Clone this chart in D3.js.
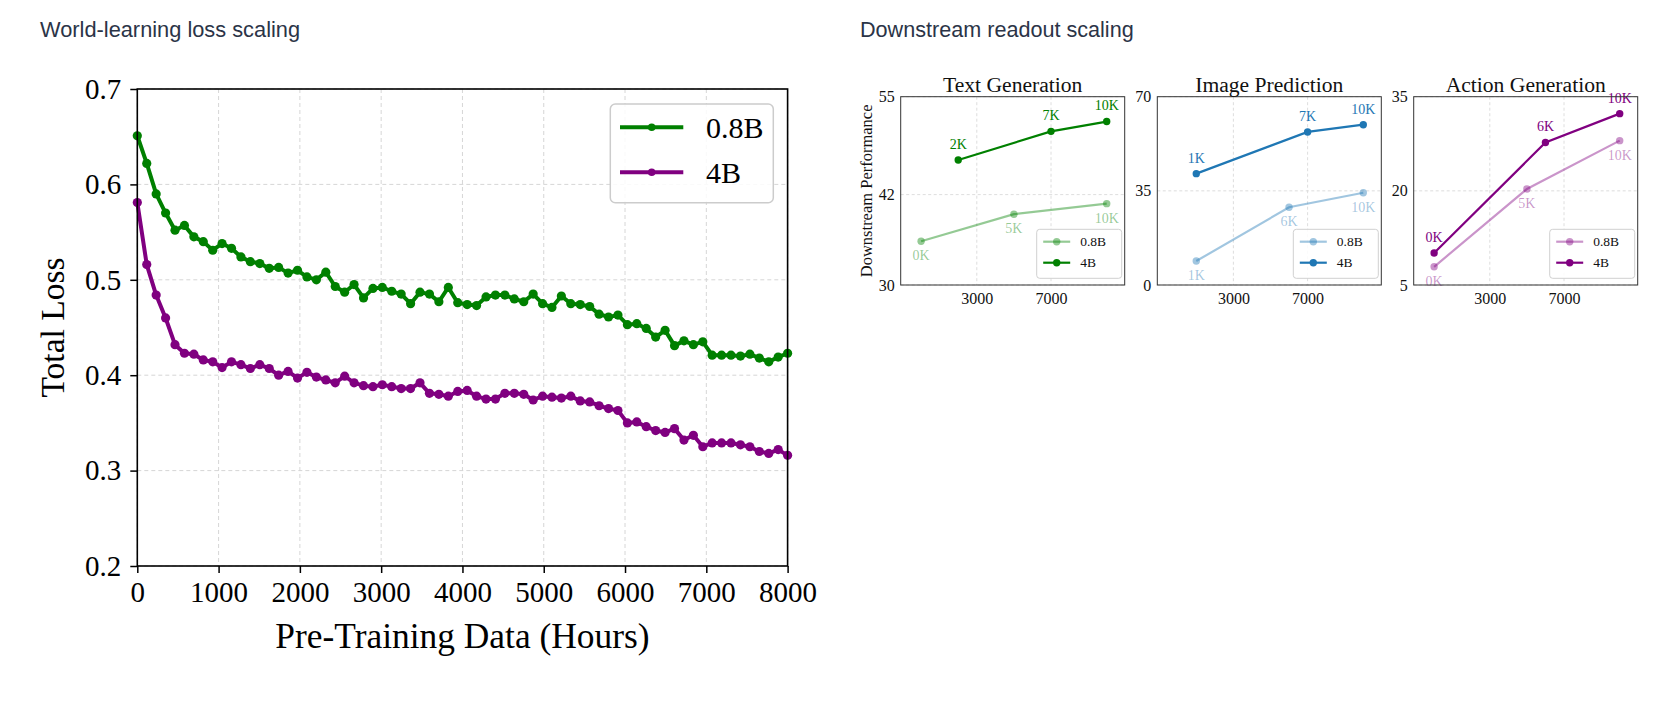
<!DOCTYPE html>
<html><head><meta charset="utf-8">
<script src="https://cdn.jsdelivr.net/npm/d3@7"></script>
<style>
html,body{margin:0;padding:0;background:#fff;}
svg{display:block;}
</style></head>
<body>
<script>
// ---------- Left chart data ----------
const hours = [0,116,232,348,464,580,696,812,928,1043,1159,1275,1391,1507,1623,1739,1855,1971,2087,2203,2319,2435,2551,2667,2783,2899,3014,3130,3246,3362,3478,3594,3710,3826,3942,4058,4174,4290,4406,4522,4638,4754,4870,4986,5101,5217,5333,5449,5565,5681,5797,5913,6029,6145,6261,6377,6493,6609,6725,6841,6957,7072,7188,7304,7420,7536,7652,7768,7884,8000];
const loss08B = [0.651,0.622,0.590,0.570,0.552,0.557,0.545,0.540,0.531,0.538,0.533,0.524,0.519,0.517,0.512,0.513,0.507,0.510,
  0.503,0.500,0.508,0.493,0.487,0.495,0.481,0.491,0.492,0.488,0.485,0.475,0.487,0.485,0.477,0.492,0.476,
  0.474,0.473,0.482,0.484,0.484,0.480,0.477,0.485,0.475,0.471,0.483,0.475,0.474,0.472,0.464,0.461,0.463,
  0.453,0.454,0.449,0.440,0.447,0.431,0.436,0.432,0.435,0.421,0.421,0.421,0.420,0.422,0.418,0.414,0.419,0.423];
const loss4B = [0.581,0.516,0.484,0.460,0.432,0.423,0.422,0.416,0.414,0.408,0.414,0.411,0.407,0.411,0.407,0.400,0.404,0.397,
  0.403,0.398,0.395,0.392,0.399,0.392,0.389,0.388,0.390,0.388,0.386,0.386,0.392,0.381,0.380,0.378,0.383,
  0.384,0.378,0.375,0.375,0.381,0.381,0.380,0.374,0.378,0.377,0.376,0.378,0.373,0.372,0.368,0.365,0.363,
  0.350,0.351,0.346,0.342,0.340,0.344,0.332,0.337,0.325,0.329,0.329,0.329,0.327,0.325,0.320,0.318,0.322,0.316];
const lossXTicks = [0,1000,2000,3000,4000,5000,6000,7000,8000];
const lossYTicks = [0.2,0.3,0.4,0.5,0.6,0.7];
const modelNames = ["0.8B","4B"];

// ---------- Right chart data ----------
const taskNames = ["Text Generation","Image Prediction","Action Generation"];
const taskYDomains = [[30,55],[0,70],[5,35]];
const taskYTicks = [[30,42,55],[0,35,70],[5,20,35]];
const readoutXTicks = [3000,7000];
const text08X = [0,5000,10000],  text08Y = [35.8,39.4,40.8], text08L = ["0K","5K","10K"];
const text4X  = [2000,7000,10000], text4Y = [46.6,50.4,51.7], text4L = ["2K","7K","10K"];
const img08X  = [1000,6000,10000], img08Y = [8.9,28.9,34.3],  img08L = ["1K","6K","10K"];
const img4X   = [1000,7000,10000], img4Y  = [41.4,56.9,59.6], img4L  = ["1K","7K","10K"];
const act08X  = [0,5000,10000],  act08Y = [7.9,20.3,28.0],  act08L = ["0K","5K","10K"];
const act4X   = [0,6000,10000],  act4Y  = [10.1,27.7,32.3], act4L  = ["0K","6K","10K"];

const SERIF = "'Liberation Serif','Times New Roman',serif";
const SANS = "'Liberation Sans',Arial,sans-serif";

const svg = d3.select("body").append("svg").attr("width",1680).attr("height",707);
svg.append("rect").attr("width",1680).attr("height",707).attr("fill","#fff");

// Header titles
svg.append("text").attr("x",40).attr("y",37).attr("font-family",SANS).attr("font-size",21.8)
  .attr("fill","#2b3447").text("World-learning loss scaling");
svg.append("text").attr("x",860).attr("y",37).attr("font-family",SANS).attr("font-size",21.6)
  .attr("fill","#2b3447").text("Downstream readout scaling");

// ---------- Left chart ----------
(function(){
  const L=137.3, R=787.6, T=89, B=566;
  const x = d3.scaleLinear().domain([0,8000]).range([L,R]);
  const y = d3.scaleLinear().domain([0.2,0.7]).range([B,T]);
  const g = svg.append("g");
  // grid
  g.append("g").selectAll("line").data(lossXTicks).join("line")
    .attr("x1",d=>x(d)).attr("x2",d=>x(d)).attr("y1",T).attr("y2",B)
    .attr("stroke","#d6d6d6").attr("stroke-width",1).attr("stroke-dasharray","4,3");
  g.append("g").selectAll("line").data(lossYTicks).join("line")
    .attr("y1",d=>y(d)).attr("y2",d=>y(d)).attr("x1",L).attr("x2",R)
    .attr("stroke","#d6d6d6").attr("stroke-width",1).attr("stroke-dasharray","4,3");
  // axes
  const ax = g.append("g").attr("transform",`translate(0,${B})`)
    .call(d3.axisBottom(x).tickValues(lossXTicks).tickFormat(d3.format("d")).tickSize(7).tickPadding(8));
  const ay = g.append("g").attr("transform",`translate(${L},0)`)
    .call(d3.axisLeft(y).tickValues(lossYTicks).tickFormat(d3.format(".1f")).tickSize(7).tickPadding(9));
  [ax,ay].forEach(a=>{
    a.select(".domain").remove();
    a.selectAll(".tick line").attr("stroke","#000").attr("stroke-width",1.5);
    a.selectAll(".tick text").attr("font-family",SERIF).attr("font-size",29).attr("fill","#000");
  });
  // series
  const series = [{name:modelNames[0],vals:loss08B,color:"#008000"},{name:modelNames[1],vals:loss4B,color:"#800080"}];
  const line = d3.line().x((d,i)=>x(hours[i])).y(d=>y(d));
  series.forEach(s=>{
    g.append("path").datum(s.vals).attr("d",line).attr("fill","none")
      .attr("stroke",s.color).attr("stroke-width",4).attr("stroke-linejoin","round");
    g.append("g").selectAll("circle").data(s.vals).join("circle")
      .attr("cx",(d,i)=>x(hours[i])).attr("cy",d=>y(d)).attr("r",4.6).attr("fill",s.color);
  });
  // frame
  g.append("rect").attr("x",L).attr("y",T).attr("width",R-L).attr("height",B-T)
    .attr("fill","none").attr("stroke","#000").attr("stroke-width",1.6);
  // axis labels
  g.append("text").attr("x",(L+R)/2).attr("y",648).attr("text-anchor","middle")
    .attr("font-family",SERIF).attr("font-size",35.4).text("Pre-Training Data (Hours)");
  g.append("text").attr("transform",`translate(64,${(T+B)/2}) rotate(-90)`).attr("text-anchor","middle")
    .attr("font-family",SERIF).attr("font-size",33.5).text("Total Loss");
  // legend
  const lg = g.append("g");
  lg.append("rect").attr("x",610.3).attr("y",104).attr("width",163).attr("height",98.7).attr("rx",5)
    .attr("fill","#fff").attr("fill-opacity",0.85).attr("stroke","#cccccc").attr("stroke-width",1.5);
  series.forEach((s,i)=>{
    const yy = 127.3 + i*45;
    lg.append("line").attr("x1",620).attr("x2",683.3).attr("y1",yy).attr("y2",yy)
      .attr("stroke",s.color).attr("stroke-width",4);
    lg.append("circle").attr("cx",651.7).attr("cy",yy).attr("r",3.8).attr("fill",s.color);
    lg.append("text").attr("x",706).attr("y",yy).attr("dy","0.35em")
      .attr("font-family",SERIF).attr("font-size",30).text(s.name);
  });
})();

// ---------- Right subplots ----------
const subLefts = [900.7,1157.3,1413.7];
const subW = 224, subT = 96.7, subB = 285;
const subData = [
  {c:"#008000", a:{x:text08X,y:text08Y,l:text08L}, b:{x:text4X,y:text4Y,l:text4L}},
  {c:"#1f77b4", a:{x:img08X,y:img08Y,l:img08L},   b:{x:img4X,y:img4Y,l:img4L}},
  {c:"#800080", a:{x:act08X,y:act08Y,l:act08L},   b:{x:act4X,y:act4Y,l:act4L}}
];
taskNames.forEach((name,k)=>{
  const L = subLefts[k], R = L+subW;
  const x = d3.scaleLinear().domain([-1100,10970]).range([L,R]);
  const y = d3.scaleLinear().domain(taskYDomains[k]).range([subB,subT]);
  const g = svg.append("g");
  const d = subData[k];
  // grid
  g.append("g").selectAll("line").data(readoutXTicks).join("line")
    .attr("x1",v=>x(v)).attr("x2",v=>x(v)).attr("y1",subT).attr("y2",subB)
    .attr("stroke","#d9d9d9").attr("stroke-width",0.9).attr("stroke-dasharray","3,2.5");
  g.append("g").selectAll("line").data(taskYTicks[k]).join("line")
    .attr("y1",v=>y(v)).attr("y2",v=>y(v)).attr("x1",L).attr("x2",R)
    .attr("stroke","#d9d9d9").attr("stroke-width",0.9).attr("stroke-dasharray","3,2.5");
  // tick labels via axes
  const ax = g.append("g").attr("transform",`translate(0,${subB})`)
    .call(d3.axisBottom(x).tickValues(readoutXTicks).tickFormat(d3.format("d")).tickSize(0).tickPadding(8));
  const ay = g.append("g").attr("transform",`translate(${L},0)`)
    .call(d3.axisLeft(y).tickValues(taskYTicks[k]).tickFormat(d3.format("d")).tickSize(0).tickPadding(6));
  [ax,ay].forEach(a=>{
    a.select(".domain").remove();
    a.selectAll(".tick text").attr("font-family",SERIF).attr("font-size",16).attr("fill","#111");
  });
  const line = (sx,sy)=> d3.line().x((v,i)=>x(sx[i])).y(v=>y(v))(sy);
  [[d.a,0.42,14],[d.b,1,-16]].forEach(([s,op,dy])=>{
    g.append("path").attr("d",line(s.x,s.y)).attr("fill","none").attr("stroke",d.c)
      .attr("stroke-opacity",op).attr("stroke-width",2.2);
    g.append("g").selectAll("circle").data(s.y).join("circle")
      .attr("cx",(v,i)=>x(s.x[i])).attr("cy",v=>y(v)).attr("r",3.7)
      .attr("fill",d.c).attr("fill-opacity",op);
    g.append("g").selectAll("text").data(s.y).join("text")
      .attr("x",(v,i)=>x(s.x[i])).attr("y",v=>y(v)+dy).attr("dy","0.35em").attr("text-anchor","middle")
      .attr("font-family",SERIF).attr("font-size",14).attr("fill",d.c).attr("fill-opacity",op)
      .text((v,i)=>s.l[i]);
  });
  // legend
  const lx = R-88, ly = 229.3;
  g.append("rect").attr("x",lx).attr("y",ly).attr("width",85).attr("height",49).attr("rx",3)
    .attr("fill","#fff").attr("fill-opacity",0.85).attr("stroke","#d0d0d0").attr("stroke-width",1);
  [[modelNames[0],0.42],[modelNames[1],1]].forEach(([nm,op],i)=>{
    const yy = ly + 12.4 + i*21;
    g.append("line").attr("x1",lx+6.5).attr("x2",lx+33.5).attr("y1",yy).attr("y2",yy)
      .attr("stroke",d.c).attr("stroke-opacity",op).attr("stroke-width",2.2);
    g.append("circle").attr("cx",lx+20).attr("cy",yy).attr("r",3.7).attr("fill",d.c).attr("fill-opacity",op);
    g.append("text").attr("x",lx+43.5).attr("y",yy).attr("dy","0.35em")
      .attr("font-family",SERIF).attr("font-size",13.5).attr("fill","#111").text(nm);
  });
  // frame
  g.append("rect").attr("x",L).attr("y",subT).attr("width",subW).attr("height",subB-subT)
    .attr("fill","none").attr("stroke","#333").attr("stroke-width",1);
  // title
  g.append("text").attr("x",(L+R)/2).attr("y",92).attr("text-anchor","middle")
    .attr("font-family",SERIF).attr("font-size",21.6).attr("fill","#111").text(name);
  if(k===0){
    g.append("text").attr("transform",`translate(872,${(subT+subB)/2}) rotate(-90)`).attr("text-anchor","middle")
      .attr("font-family",SERIF).attr("font-size",16.5).attr("fill","#111").text("Downstream Performance");
  }
});
</script>
</body></html>
